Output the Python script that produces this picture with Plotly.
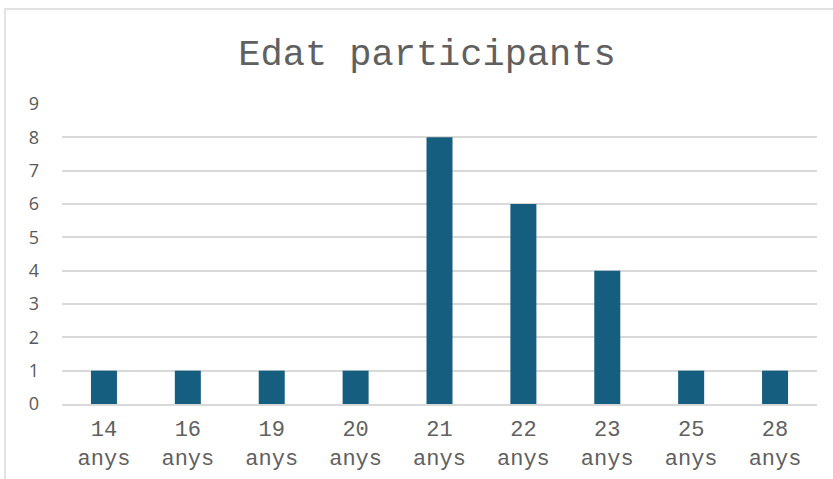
import plotly.graph_objects as go

categories = ["14<br>anys", "16<br>anys", "19<br>anys", "20<br>anys", "21<br>anys",
              "22<br>anys", "23<br>anys", "25<br>anys", "28<br>anys"]
values = [1, 1, 1, 1, 8, 6, 4, 1, 1]
y_ticks = list(range(0, 10))

W, H = 833, 479
ml, mr, mt, mb = 62, 16, 104, 75
pw, ph = W - ml - mr, H - mt - mb

fig = go.Figure(go.Bar(x=categories, y=values, marker=dict(color="#165E80", line=dict(width=0))))

fig.update_layout(
    width=W, height=H,
    margin=dict(l=ml, r=mr, t=mt, b=mb, pad=0, autoexpand=False),
    paper_bgcolor="white", plot_bgcolor="white",
    bargap=0.69,
    showlegend=False,
    title=dict(text="Edat participants", x=(237 + 617) / 2 / W, xanchor="center",
               y=1 - 52 / H, yanchor="middle", yref="container", xref="container",
               font=dict(family="Liberation Mono", size=37, color="#606060")),
    xaxis=dict(showgrid=False, showline=True, linecolor="#D9D9D9", linewidth=1.5,
               tickfont=dict(family="Liberation Mono", size=22, color="#606060"),
               ticks="", fixedrange=True, ticklabelstandoff=4, automargin=False),
    yaxis=dict(range=[0, 9], tickvals=y_ticks, showgrid=True, gridcolor="#D9D9D9", gridwidth=1.5,
               zeroline=False, showline=False, ticks="", automargin=False,
               tickfont=dict(family="Open Sans", size=18, color="#595959"),
               ticklabelstandoff=22),
    shapes=[dict(type="rect", xref="paper", yref="paper",
                 x0=(5 - ml) / pw, x1=(W + 20 - ml) / pw,
                 y0=-(H + 20 - mt - ph) / ph, y1=1 + (mt - 9) / ph,
                 line=dict(color="#D9D9D9", width=1.5), fillcolor="rgba(0,0,0,0)", layer="below")],
)

fig.write_html("out.html")
